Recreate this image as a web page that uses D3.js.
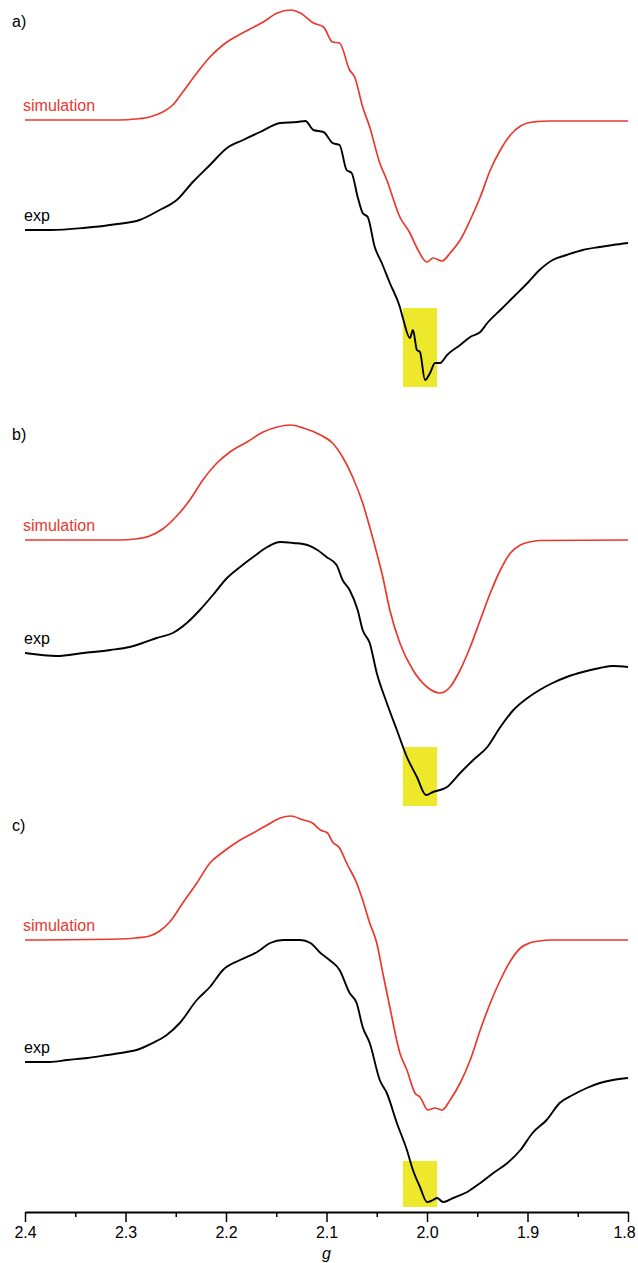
<!DOCTYPE html>
<html>
<head>
<meta charset="utf-8">
<script src="https://cdn.jsdelivr.net/npm/d3@7/dist/d3.min.js"></script>
<style>
  html, body { margin: 0; padding: 0; background: #fff; }
  svg { display: block; font-family: "Liberation Sans", Arial, sans-serif; }
</style>
</head>
<body>
<script>
(function() {
    var w = 638;
    var h = 1263;

    // panel labels and legend text
    var panelLabels = ["a)", "b)", "c)"];
    var simLabel = "simulation";
    var expLabel = "exp";

    // axis ticks (g)
    var majorTicks = [2.4, 2.3, 2.2, 2.1, 2.0, 1.9, 1.8];
    var minorTicks = [2.35, 2.25, 2.15, 2.05, 1.95, 1.85];

    // highlighted g window (yellow box)
    var highlightG = [2.024, 1.990];

    // spectra, [g, intensity a.u.]
    var simA = [[2.400, 0], [2.306, 0], [2.290, 1], [2.276, 3], [2.263, 8], [2.253, 15], [2.243, 28], [2.229, 47],
        [2.216, 63], [2.203, 75], [2.189, 84], [2.176, 91], [2.163, 98], [2.149, 107], [2.136, 110],
        [2.126, 107], [2.113, 97], [2.103, 93], [2.094, 78], [2.087, 77], [2.077, 50], [2.072, 43],
        [2.064, 13], [2.057, -7], [2.047, -43], [2.040, -60], [2.027, -97], [2.017, -113], [2.010, -128],
        [2.000, -142], [1.994, -138], [1.985, -141], [1.977, -133], [1.967, -120], [1.957, -100],
        [1.947, -77], [1.937, -50], [1.927, -30], [1.917, -15], [1.907, -6], [1.900, -3], [1.890, -1.5],
        [1.878, -1], [1.800, -1]];

    var expA = [[2.400, 0], [2.375, 0], [2.342, 2], [2.308, 6], [2.286, 10], [2.266, 20], [2.249, 30],
        [2.233, 48], [2.216, 65], [2.199, 82], [2.183, 90], [2.166, 98], [2.146, 107], [2.129, 108],
        [2.121, 109], [2.113, 100], [2.103, 98], [2.094, 87], [2.087, 85], [2.080, 60], [2.075, 57],
        [2.069, 33], [2.064, 17], [2.059, 13], [2.052, -17], [2.045, -33], [2.037, -53], [2.027, -77],
        [2.024, -88], [2.017, -108], [2.014, -100], [2.010, -120], [2.007, -122], [2.002, -150],
        [1.997, -143], [1.992, -133], [1.987, -133], [1.980, -125], [1.967, -115], [1.957, -107],
        [1.947, -102], [1.940, -93], [1.927, -80], [1.914, -67], [1.900, -53], [1.888, -40], [1.875, -30],
        [1.861, -25], [1.845, -20], [1.828, -17], [1.815, -15], [1.800, -13]];

    var simB = [[2.400, 0], [2.306, 0], [2.290, 1], [2.276, 4], [2.263, 11], [2.249, 24], [2.236, 40], [2.223, 60],
        [2.209, 77], [2.196, 88], [2.179, 98], [2.163, 108], [2.149, 113], [2.136, 115], [2.123, 112],
        [2.106, 105], [2.094, 97], [2.084, 83], [2.074, 63], [2.064, 37], [2.057, 13], [2.050, -13],
        [2.044, -37], [2.037, -70], [2.027, -103], [2.014, -130], [2.000, -147], [1.987, -153],
        [1.977, -147], [1.967, -130], [1.957, -107], [1.947, -80], [1.937, -53], [1.927, -30],
        [1.917, -13], [1.907, -5], [1.898, -2], [1.888, -0.5], [1.800, 0]];

    var expB = [[2.400, 0], [2.368, -3], [2.342, 0], [2.315, 3], [2.296, 6], [2.283, 10],
        [2.269, 15], [2.253, 20], [2.239, 30], [2.226, 43], [2.213, 58], [2.199, 75], [2.186, 86],
        [2.173, 96], [2.159, 106], [2.146, 111], [2.133, 110], [2.119, 108], [2.109, 103], [2.100, 96],
        [2.090, 88], [2.084, 73], [2.077, 63], [2.069, 43], [2.064, 23], [2.057, 10], [2.050, -20],
        [2.040, -50], [2.030, -77], [2.020, -104], [2.010, -124], [2.001, -142], [1.994, -139],
        [1.980, -134], [1.967, -120], [1.954, -107], [1.940, -94], [1.927, -74], [1.914, -57],
        [1.900, -45], [1.888, -37], [1.875, -30], [1.861, -24], [1.845, -19], [1.828, -15],
        [1.815, -13], [1.800, -14]];

    var simC = [[2.400, 0], [2.306, 1], [2.290, 2], [2.276, 4], [2.266, 9], [2.256, 18], [2.243, 37], [2.229, 57],
        [2.216, 77], [2.203, 88], [2.189, 98], [2.173, 107], [2.159, 115], [2.146, 122], [2.136, 124],
        [2.123, 120], [2.114, 117], [2.106, 110], [2.099, 107], [2.094, 98], [2.087, 92], [2.080, 77],
        [2.070, 57], [2.064, 40], [2.057, 17], [2.050, -3], [2.044, -33], [2.037, -67], [2.027, -113],
        [2.020, -130], [2.012, -153], [2.007, -157], [1.999, -170], [1.992, -168], [1.985, -170],
        [1.977, -160], [1.967, -143], [1.957, -120], [1.947, -90], [1.937, -63], [1.927, -40],
        [1.917, -21], [1.907, -8], [1.898, -3], [1.888, -1], [1.876, 0], [1.800, 0]];

    var expC = [[2.400, 0], [2.375, 0], [2.358, 2], [2.338, 4], [2.318, 7], [2.299, 10], [2.289, 12],
        [2.273, 19], [2.259, 27], [2.246, 39], [2.229, 62], [2.216, 75], [2.203, 92], [2.186, 102],
        [2.169, 110], [2.156, 119], [2.143, 122], [2.126, 122], [2.116, 119], [2.106, 109], [2.097, 102],
        [2.087, 92], [2.077, 69], [2.070, 59], [2.064, 35], [2.057, 19], [2.047, -18], [2.040, -31],
        [2.030, -61], [2.020, -88], [2.014, -108], [2.007, -125], [2.000, -140], [1.994, -138],
        [1.990, -136], [1.984, -140], [1.974, -136], [1.960, -130], [1.947, -121], [1.934, -111],
        [1.920, -101], [1.907, -88], [1.895, -71], [1.881, -58], [1.868, -41], [1.855, -33],
        [1.841, -26], [1.828, -21], [1.815, -18], [1.800, -16]];

    // highlight box extents in exp units, per panel
    var boxA = [-78, -157];
    var boxB = [-94, -153];
    var boxC = [-99, -145];

    var panels = [
        {label: panelLabels[0], sim: simA, exp: expA, box: boxA, simBase: 120, expBase: 230, top: 27},
        {label: panelLabels[1], sim: simB, exp: expB, box: boxB, simBase: 540, expBase: 653, top: 440},
        {label: panelLabels[2], sim: simC, exp: expC, box: boxC, simBase: 940, expBase: 1062, top: 831}
    ];

    var red = "#e8392f";
    var axisY = 1212;

    var svg = d3.select("body").append("svg")
        .attr("width", w)
        .attr("height", h);

    var x = d3.scaleLinear().domain([2.4, 1.8]).range([25, 628]);

    panels.forEach(function(p) {
        // 1 a.u. = 1 px
        var ySim = d3.scaleLinear().domain([0, 100]).range([p.simBase, p.simBase - 100]);
        var yExp = d3.scaleLinear().domain([0, 100]).range([p.expBase, p.expBase - 100]);

        svg.append("rect")
            .attr("x", x(highlightG[0]))
            .attr("width", x(highlightG[1]) - x(highlightG[0]))
            .attr("y", yExp(p.box[0]))
            .attr("height", yExp(p.box[1]) - yExp(p.box[0]))
            .attr("fill", "#ede82c");

        var simLine = d3.line()
            .x(function(d) { return x(d[0]); })
            .y(function(d) { return ySim(d[1]); })
            .curve(d3.curveMonotoneX);

        var expLine = d3.line()
            .x(function(d) { return x(d[0]); })
            .y(function(d) { return yExp(d[1]); })
            .curve(d3.curveMonotoneX);

        svg.append("path")
            .attr("d", simLine(p.sim))
            .attr("fill", "none")
            .attr("stroke", red)
            .attr("stroke-width", 1.7);

        svg.append("path")
            .attr("d", expLine(p.exp))
            .attr("fill", "none")
            .attr("stroke", "#000")
            .attr("stroke-width", 1.9)
            .attr("stroke-linejoin", "round");

        svg.append("text")
            .attr("x", 12).attr("y", p.top)
            .attr("font-size", 16)
            .text(p.label);

        svg.append("text")
            .attr("x", 23).attr("y", p.simBase - 9)
            .attr("font-size", 16)
            .attr("fill", red)
            .text(simLabel);

        svg.append("text")
            .attr("x", 24).attr("y", p.expBase - 9)
            .attr("font-size", 16)
            .text(expLabel);
    });

    // bottom axis
    var axis = d3.axisBottom(x)
        .tickValues(majorTicks)
        .tickFormat(d3.format(".1f"))
        .tickSize(10)
        .tickSizeOuter(0)
        .tickPadding(5);

    var gAxis = svg.append("g")
        .attr("transform", "translate(0," + axisY + ")")
        .call(axis);
    gAxis.select(".domain").attr("stroke-width", 1.8);
    gAxis.selectAll(".tick line").attr("stroke-width", 1.5);
    gAxis.selectAll(".tick text")
        .attr("font-size", 16)
        .attr("font-family", "Liberation Sans, Arial, sans-serif");
    // keep the last label inside the page
    gAxis.selectAll(".tick text")
        .filter(function(d) { return d === 1.8; })
        .attr("dx", -4);

    var minorAxis = d3.axisBottom(x)
        .tickValues(minorTicks)
        .tickFormat("")
        .tickSize(5)
        .tickSizeOuter(0);

    var gMinor = svg.append("g")
        .attr("transform", "translate(0," + axisY + ")")
        .call(minorAxis);
    gMinor.select(".domain").remove();
    gMinor.selectAll(".tick line").attr("stroke-width", 1.5);

    svg.append("text")
        .attr("x", x(2.1))
        .attr("y", 1259)
        .attr("text-anchor", "middle")
        .attr("font-size", 16)
        .attr("font-style", "italic")
        .text("g");
})();
</script>
</body>
</html>
